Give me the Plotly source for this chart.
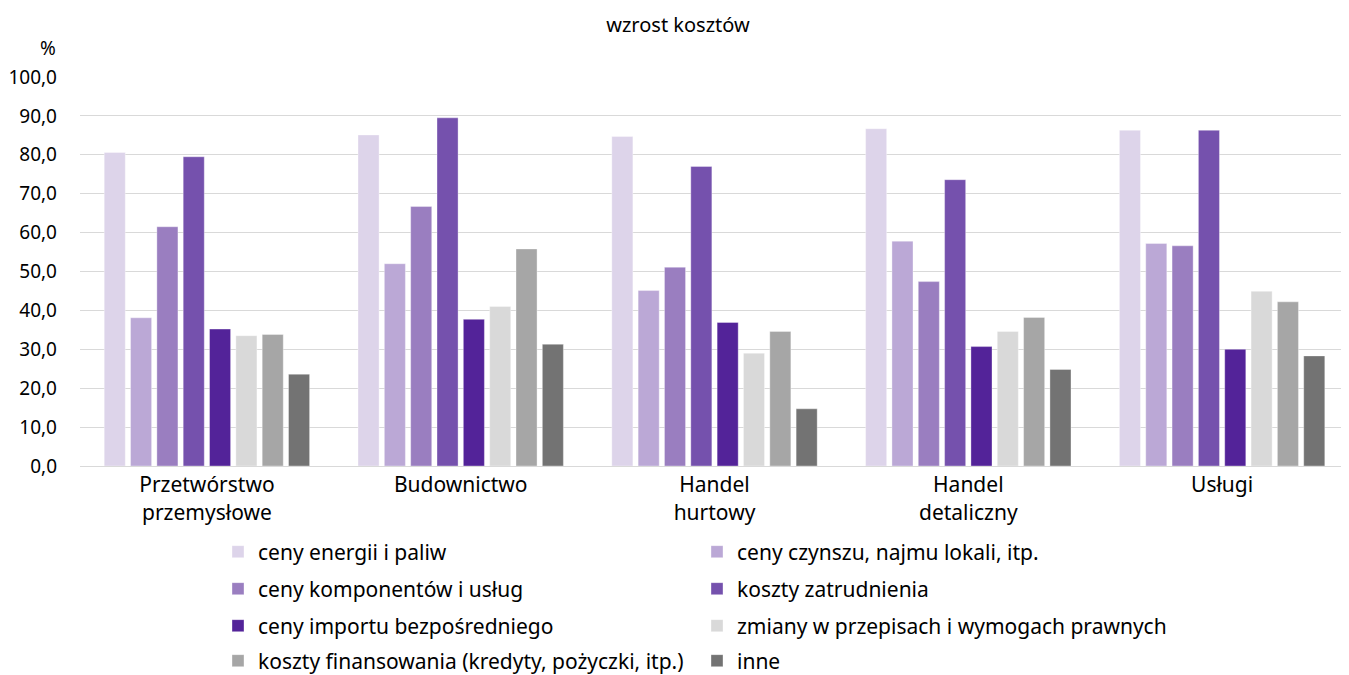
import plotly.graph_objects as go

categories = ["Przetwórstwo<br>przemysłowe", "Budownictwo", "Handel<br>hurtowy", "Handel<br>detaliczny", "Usługi"]
series_names = [
    "ceny energii i paliw",
    "ceny czynszu, najmu lokali, itp.",
    "ceny komponentów i usług",
    "koszty zatrudnienia",
    "ceny importu bezpośredniego",
    "zmiany w przepisach i wymogach prawnych",
    "koszty finansowania (kredyty, pożyczki, itp.)",
    "inne",
]
energia = [80.6, 85.1, 84.7, 86.7, 86.3]
czynsz = [38.1, 52.0, 45.1, 57.8, 57.2]
komponenty = [61.5, 66.7, 51.1, 47.4, 56.6]
zatrudnienie = [79.5, 89.5, 77.0, 73.6, 86.3]
import_bezp = [35.2, 37.7, 36.9, 30.7, 30.0]
przepisy = [33.5, 41.0, 29.0, 34.6, 44.9]
finansowanie = [33.8, 55.8, 34.6, 38.2, 42.2]
inne = [23.6, 31.3, 14.7, 24.8, 28.3]
y_ticks = [0, 10, 20, 30, 40, 50, 60, 70, 80, 90, 100]

values = [energia, czynsz, komponenty, zatrudnienie, import_bezp, przepisy, finansowanie, inne]
colors = ["#DDD4EA", "#BBA8D6", "#9A7EC0", "#7551AD", "#532399", "#D9D9D9", "#A6A6A6", "#737373"]
legends = ["legend", "legend", "legend2", "legend2", "legend3", "legend3", "legend4", "legend4"]

FONT = "Noto Sans"
OFF = 8  # page body margin
W, H = 1349 - OFF, 675 - OFF
L, T, B = 80 - OFF, 77 - OFF, H - (466 - OFF)
fig = go.Figure()
for name, vals, col, lg in zip(series_names, values, colors, legends):
    fig.add_trace(go.Bar(
        x=categories, y=vals, name=name, marker_color=col,
        marker_line=dict(color="rgba(255,255,255,0.35)", width=1),
        legend=lg,
    ))

def leg(py):
    return dict(orientation="h", x=(218 - OFF) / W, xref="container", xanchor="left",
                y=1 - (py - OFF) / H, yref="container", yanchor="middle",
                entrywidth=434, entrywidthmode="pixels", traceorder="normal",
                font=dict(family=FONT, size=21, color="#000000"),
                itemwidth=30, bgcolor="rgba(0,0,0,0)")

plot_w = W - L
plot_h = H - T - B
fig.update_layout(
    width=W, height=H,
    margin=dict(l=L, r=0, t=T, b=B, autoexpand=False),
    plot_bgcolor="white", paper_bgcolor="white",
    barmode="group", bargap=0.17, bargroupgap=0.2,
    separators=", ",
    title=dict(text="wzrost kosztów", x=(678 - OFF) / W, xref="container", xanchor="center",
               y=1 - (25 - OFF) / H, yref="container", yanchor="middle",
               font=dict(family=FONT, size=20, color="#000000")),
    font=dict(family=FONT, size=21, color="#000000"),
    legend=leg(552),
    legend2=leg(589),
    legend3=leg(626),
    legend4=leg(661),
    xaxis=dict(showgrid=False, showline=True, linecolor="#D9D9D9", linewidth=1,
               tickfont=dict(family=FONT, size=21, color="#000000"), ticks=""),
    yaxis=dict(range=[0, 100], tickvals=y_ticks, tickformat=".1f", showgrid=True,
               gridcolor="#D9D9D9", gridwidth=1, zeroline=False, showline=False,
               ticklabelstandoff=22,
               tickfont=dict(family=FONT, size=19, color="#000000")),
    annotations=[dict(text="%", x=(48 - OFF - L) / plot_w, xref="paper", xanchor="center",
                      y=(H - B - (48 - OFF)) / plot_h, yref="paper", yanchor="middle",
                      showarrow=False, font=dict(family=FONT, size=19, color="#000000"))],
)
fig.write_html("out.html")
